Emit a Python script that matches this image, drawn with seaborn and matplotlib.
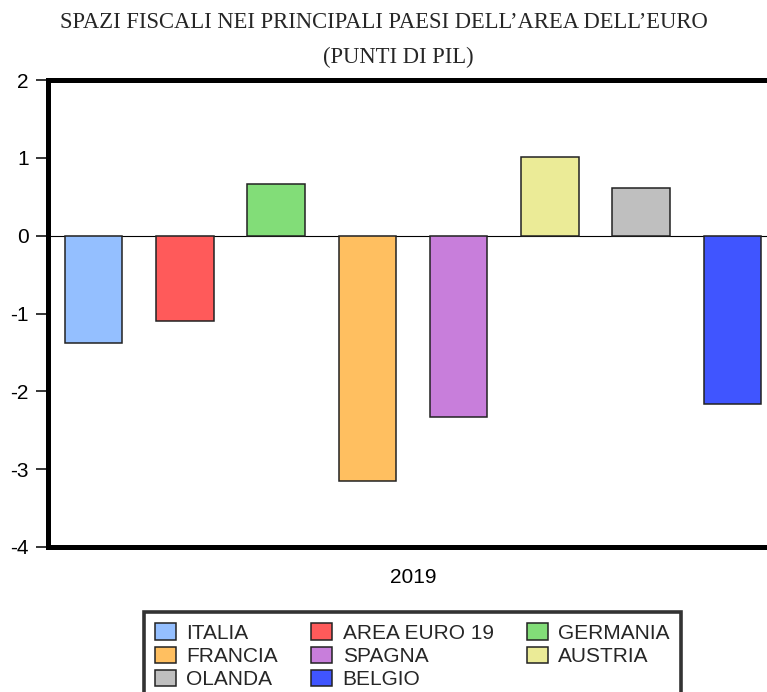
import numpy as np
import pandas as pd
import matplotlib
matplotlib.use('Agg')
import matplotlib.pyplot as plt
import seaborn as sns

# Data (punti di PIL, 2019)
years = ['2019']
countries = ['ITALIA', 'AREA EURO 19', 'GERMANIA', 'FRANCIA',
             'SPAGNA', 'AUSTRIA', 'OLANDA', 'BELGIO']
values = [-1.38, -1.09, 0.67, -3.15, -2.33, 1.01, 0.61, -2.16]
colors = ['#94BFFF', '#FF5A5A', '#82DD78', '#FFBF60',
          '#C87EDB', '#EBEB97', '#BFBFBF', '#4055FF']

df = pd.DataFrame({'year': years * len(countries),
                   'country': countries,
                   'value': values})

sns.set_style('white')
plt.rcParams['font.family'] = ['Liberation Sans', 'DejaVu Sans']
plt.rcParams['axes.unicode_minus'] = False

fig = plt.figure(figsize=(7.67, 6.92), dpi=100)
# axes run off the right edge as in the original export
ax = fig.add_axes([48 / 767, 1 - 547 / 692, 730 / 767, 467 / 692])

sns.barplot(data=df, x='year', y='value', hue='country',
            hue_order=countries, palette=colors, width=0.8, gap=0.37,
            edgecolor='#222222', linewidth=1.1, saturation=1,
            errorbar=None, ax=ax, zorder=3)

ax.axhline(0, color='black', lw=0.8, zorder=2)
ax.set_ylim(-4, 2)
ax.set_xlim(-0.4, 0.4)
ax.set_yticks([-4, -3, -2, -1, 0, 1, 2])
ax.set_xlabel('')
ax.set_ylabel('')

for sp in ax.spines.values():
    sp.set_linewidth(3.6)
    sp.set_color('black')

ax.tick_params(axis='y', direction='out', length=9, width=1.1,
               pad=5, labelsize=15, left=True, colors='black')
ax.tick_params(axis='x', length=0, pad=15, labelsize=15, colors='black')

# legend: row-wise order in 3 columns
handles, labels = ax.get_legend_handles_labels()
ax.get_legend().remove()
order = [0, 3, 6, 1, 4, 7, 2, 5]
leg = fig.legend([handles[i] for i in order], [labels[i] for i in order],
                 ncol=3, loc='upper center',
                 bbox_to_anchor=(412.5 / 767, 1 - 612 / 692),
                 frameon=True, fancybox=False, fontsize=15,
                 handlelength=1.0, handleheight=0.82, handletextpad=0.5,
                 labelspacing=0.18, columnspacing=1.6, borderpad=0.55,
                 borderaxespad=0)
leg.get_frame().set_edgecolor('black')
leg.get_frame().set_linewidth(2.6)

fig.text(384 / 767, 1 - 23 / 692,
         'SPAZI FISCALI NEI PRINCIPALI PAESI DELL\u2019AREA DELL\u2019EURO',
         ha='center', va='center', fontsize=16.3,
         family=['Liberation Serif', 'DejaVu Serif'])
fig.text(398 / 767, 1 - 57 / 692, '(PUNTI DI PIL)',
         ha='center', va='center', fontsize=16.3,
         family=['Liberation Serif', 'DejaVu Serif'])

fig.savefig('out.png', dpi=100)
